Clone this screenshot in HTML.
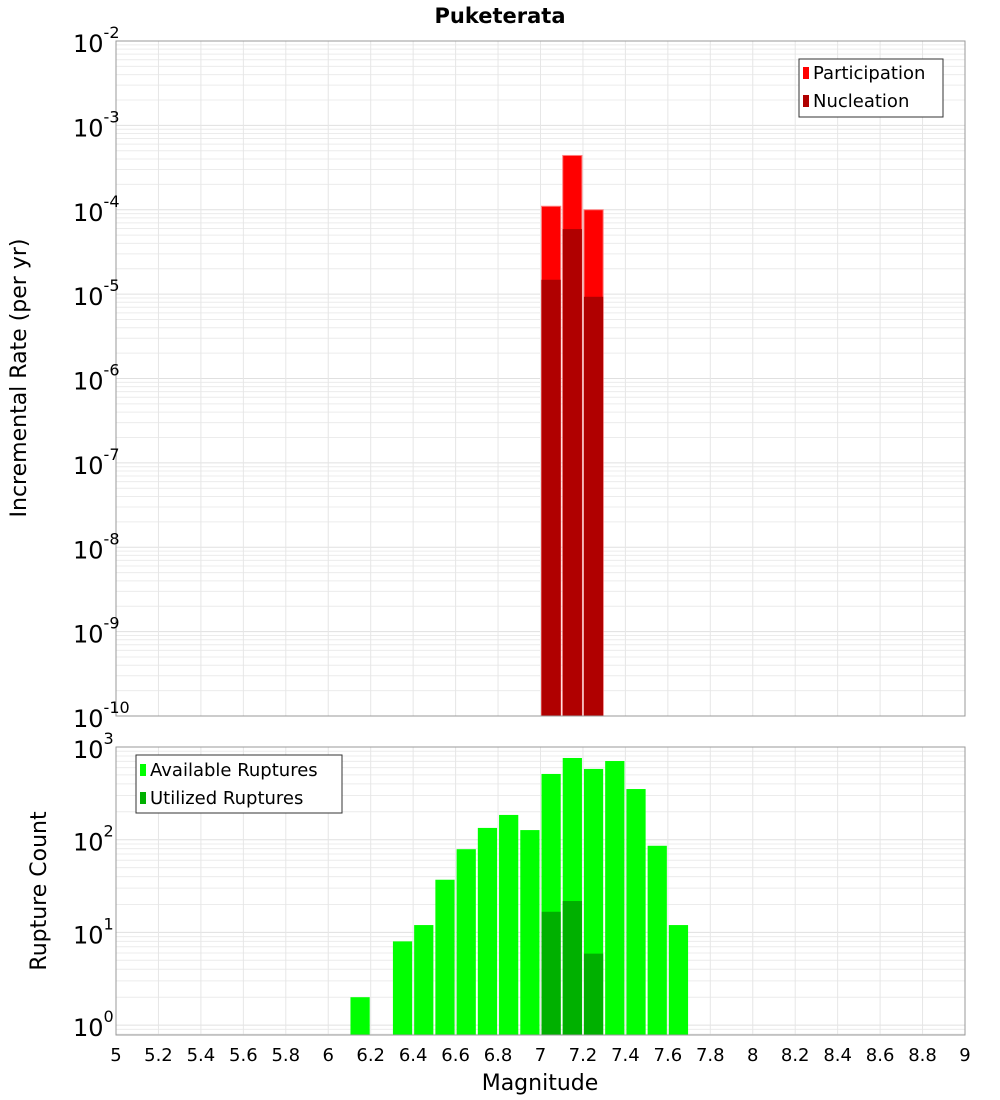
<!DOCTYPE html>
<html><head><meta charset="utf-8"><style>
body{margin:0;background:#fff;font-family:"Liberation Sans","DejaVu Sans",sans-serif;}
svg{display:block}
</style></head><body>
<svg id="c" width="1000" height="1100" xmlns="http://www.w3.org/2000/svg" font-family="DejaVu Sans, Liberation Sans, sans-serif"></svg>
<script>
const binCenters=[7.05,7.15,7.25];
const participation=[1.1e-4,4.4e-4,1.0e-4];
const nucleation=[1.48e-5,5.9e-5,9.3e-6];
const availCenters=[6.15,6.35,6.45,6.55,6.65,6.75,6.85,6.95,7.05,7.15,7.25,7.35,7.45,7.55,7.65];
const available=[2,8,12,37,79,134,185,127,512,761,580,706,352,86,12];
const utilCenters=[7.05,7.15,7.25];
const utilized=[16.7,21.8,5.9];
const xTicks=[5,5.2,5.4,5.6,5.8,6,6.2,6.4,6.6,6.8,7,7.2,7.4,7.6,7.8,8,8.2,8.4,8.6,8.8,9];
const topExps=[-2,-3,-4,-5,-6,-7,-8,-9,-10];
const botExps=[3,2,1,0];

const svg=document.getElementById('c');
const NS='http://www.w3.org/2000/svg';
function el(t,a,p){const e=document.createElementNS(NS,t);for(const k in a)e.setAttribute(k,a[k]);(p||svg).appendChild(e);return e;}
const L=116,R=965;
const x=v=>L+(v-5)/4*(R-L);
const T1=41,B1=716;
const yTop=v=>T1+(-2-Math.log10(v))*(B1-T1)/8;
const T2=747,B2=1035,dec2=92.7;
const yBot=v=>T2+(3-Math.log10(v))*dec2;

function grid(top,bot,yf,eMin,eMax,g){
  for(let e=eMin;e<eMax;e++)for(let m=1;m<10;m++){const y=yf(m*Math.pow(10,e));if(y<top-0.5||y>bot+0.5)continue;
    const l=el('line',{x1:L,x2:R,y1:y,y2:y,stroke:m==1?'#e0e0e0':'#ececec','stroke-width':1},g);
    
    }
  xTicks.forEach(t=>{const l=el('line',{x1:x(t),x2:x(t),y1:top,y2:bot,stroke:'#e6e6e6'},g);
    
    });
}
const t=el('text',{x:500,y:23,'text-anchor':'middle','font-size':21,'font-weight':'bold'});t.textContent='Puketerata';



// top plot
const g1=el('g',{});


grid(T1,B1,yTop,-10,-1,g1);
binCenters.forEach((c,i)=>{
  const r=el('rect',{x:x(c-0.05)+1,y:yTop(participation[i]),width:x(c+0.05)-x(c-0.05)-2,height:B1-yTop(participation[i]),fill:'#ff0000',stroke:'#ff8080','stroke-width':1},g1);
  
  
  const n=el('rect',{x:x(c-0.05)+1,y:yTop(nucleation[i]),width:x(c+0.05)-x(c-0.05)-2,height:B1-yTop(nucleation[i]),fill:'#b00000'},g1);
  
  
});
el('rect',{x:L,y:T1,width:R-L,height:B1-T1,fill:'none',stroke:'#999'},g1);
topExps.forEach(e=>{const y=yTop(Math.pow(10,e));
  const tx=el('text',{x:73,y:y+11,'font-size':24},g1);tx.innerHTML='10<tspan dy="-14" font-size="16">'+e+'</tspan>';
  
  });
const yt1=el('text',{x:0,y:0,transform:'translate(26,378) rotate(-90)','text-anchor':'middle','font-size':22});yt1.textContent='Incremental Rate (per yr)';


const lg1=el('g',{});


el('rect',{x:799,y:59,width:144,height:58,fill:'#fff',stroke:'#333'},lg1);
el('rect',{x:803,y:67,width:6,height:12,fill:'#ff0000'},lg1);
el('rect',{x:803,y:95,width:6,height:12,fill:'#b00000'},lg1);
const a1=el('text',{x:813,y:79,'font-size':18},lg1);a1.textContent='Participation';
const a2=el('text',{x:813,y:107,'font-size':18},lg1);a2.textContent='Nucleation';

// bottom plot
const g2=el('g',{});


grid(T2,B2,yBot,-1,3,g2);
availCenters.forEach((c,i)=>{
  const r=el('rect',{x:x(c-0.05)+1,y:yBot(available[i]),width:x(c+0.05)-x(c-0.05)-2,height:B2-yBot(available[i]),fill:'#00ff00'},g2);
  
  });
utilCenters.forEach((c,i)=>{
  const r=el('rect',{x:x(c-0.05)+1,y:yBot(utilized[i]),width:x(c+0.05)-x(c-0.05)-2,height:B2-yBot(utilized[i]),fill:'#00b000'},g2);
  
  });
el('rect',{x:L,y:T2,width:R-L,height:B2-T2,fill:'none',stroke:'#999'},g2);
botExps.forEach(e=>{const y=yBot(Math.pow(10,e));
  const tx=el('text',{x:73,y:y+11,'font-size':24},g2);tx.innerHTML='10<tspan dy="-14" font-size="16">'+e+'</tspan>';
  
  });
const yt2=el('text',{x:0,y:0,transform:'translate(46,891) rotate(-90)','text-anchor':'middle','font-size':22});yt2.textContent='Rupture Count';


const lg2=el('g',{});


el('rect',{x:136,y:755,width:206,height:58,fill:'#fff',stroke:'#333'},lg2);
el('rect',{x:140,y:764,width:6,height:12,fill:'#00ff00'},lg2);
el('rect',{x:140,y:792,width:6,height:12,fill:'#00b000'},lg2);
const b1=el('text',{x:150,y:776,'font-size':18},lg2);b1.textContent='Available Ruptures';
const b2=el('text',{x:150,y:804,'font-size':18},lg2);b2.textContent='Utilized Ruptures';
xTicks.forEach(v=>{const tx=el('text',{x:x(v),y:1061,'text-anchor':'middle','font-size':18});tx.textContent=String(v);
  
  });
const xt=el('text',{x:540,y:1090,'text-anchor':'middle','font-size':22});xt.textContent='Magnitude';


</script>
</body></html>
